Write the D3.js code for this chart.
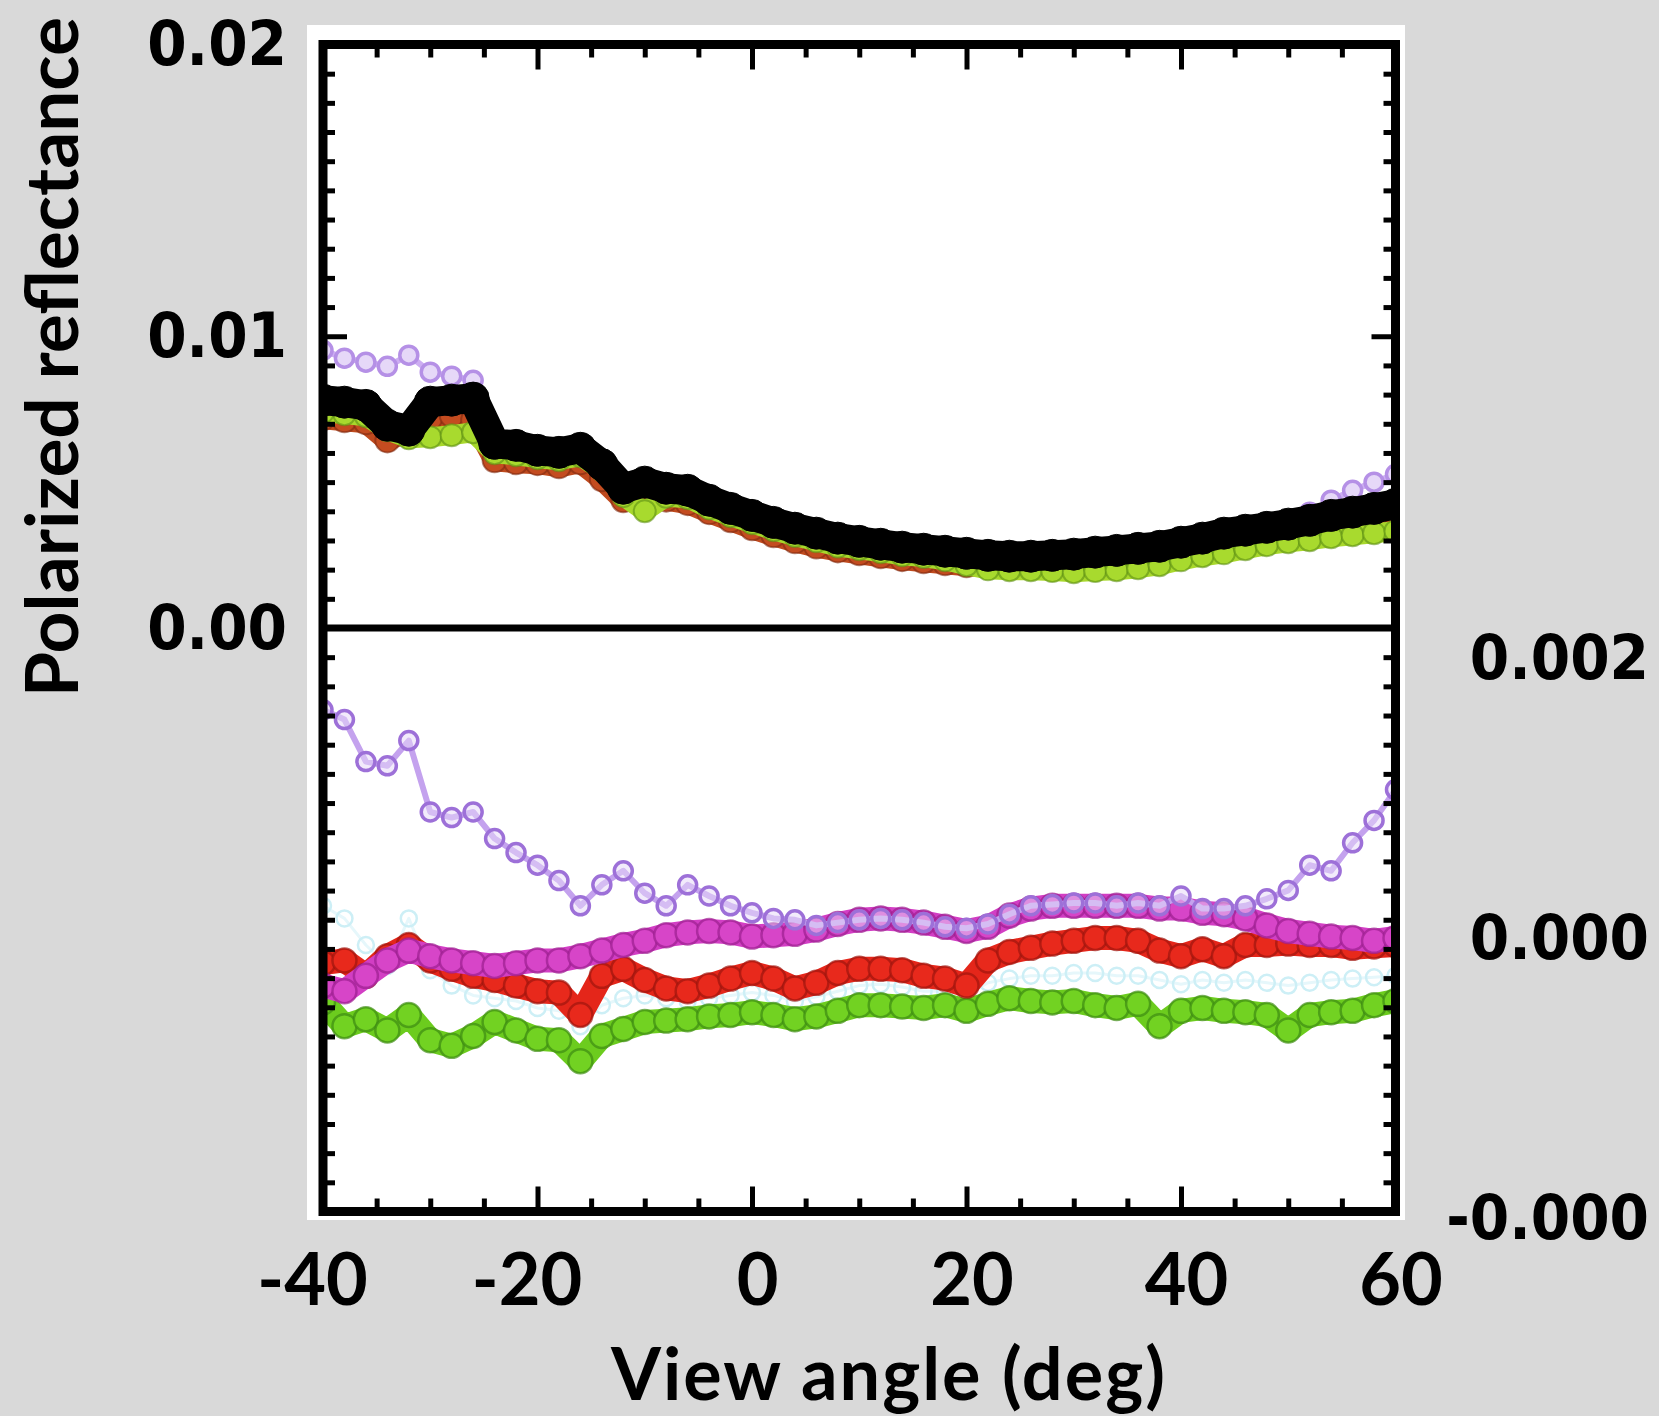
<!DOCTYPE html>
<html>
<head>
<meta charset="utf-8">
<script src="https://cdn.jsdelivr.net/npm/d3@7"></script>
<style>
  body { margin: 0; background: #d9d9d9; }
  svg { display: block; }
  .ylab { font-family: "DejaVu Sans Condensed", "DejaVu Sans", sans-serif; font-stretch: condensed; font-weight: bold; font-size: 63px; fill: #000; }
  .xlab { font-family: Lato, "Open Sans", sans-serif; font-weight: bold; font-size: 72px; fill: #000; }
</style>
</head>
<body>
<svg id="chart" width="1659" height="1416"></svg>
<script>
// view angles (deg), one point every 2 degrees
const angles = [-40, -38, -36, -34, -32, -30, -28, -26, -24, -22, -20, -18, -16, -14, -12, -10, -8, -6, -4, -2,
  0, 2, 4, 6, 8, 10, 12, 14, 16, 18, 20, 22, 24, 26, 28, 30, 32, 34, 36, 38, 40, 42, 44, 46, 48, 50, 52, 54, 56, 58, 60];

// upper panel (left axis)
const topPurple = [0.00952, 0.00925, 0.00911, 0.00897, 0.00935, 0.00877, 0.00863, 0.00849, 0.00633, 0.00626,
  0.00609, 0.00602, 0.00616, 0.00560, 0.00479, 0.00500, 0.00479, 0.00472, 0.00438, 0.00410,
  0.00386, 0.00362, 0.00342, 0.00325, 0.00308, 0.00297, 0.00287, 0.00277, 0.00270, 0.00263,
  0.00256, 0.00249, 0.00246, 0.00246, 0.00249, 0.00253, 0.00260, 0.00266, 0.00273, 0.00280,
  0.00294, 0.00308, 0.00325, 0.00335, 0.00345, 0.00369, 0.00397, 0.00438, 0.00472, 0.00500, 0.00527];
const topRed = [0.00719, 0.00712, 0.00705, 0.00643, 0.00678, 0.00719, 0.00729, 0.00712, 0.00575, 0.00568,
  0.00565, 0.00554, 0.00568, 0.00510, 0.00438, 0.00458, 0.00440, 0.00428, 0.00397, 0.00369,
  0.00342, 0.00318, 0.00297, 0.00279, 0.00266, 0.00256, 0.00246, 0.00236, 0.00229, 0.00222,
  0.00215, 0.00212, 0.00212, 0.00212, 0.00215, 0.00219, 0.00225, 0.00232, 0.00239, 0.00249,
  0.00263, 0.00277, 0.00290, 0.00301, 0.00311, 0.00325, 0.00335, 0.00352, 0.00362, 0.00376, 0.00390];
const topGreen = [0.00740, 0.00733, 0.00726, 0.00678, 0.00650, 0.00654, 0.00661, 0.00671, 0.00599, 0.00592,
  0.00582, 0.00575, 0.00589, 0.00540, 0.00452, 0.00400, 0.00450, 0.00445, 0.00410, 0.00383,
  0.00359, 0.00335, 0.00315, 0.00297, 0.00279, 0.00270, 0.00260, 0.00249, 0.00243, 0.00232,
  0.00215, 0.00201, 0.00198, 0.00198, 0.00195, 0.00191, 0.00195, 0.00198, 0.00205, 0.00215,
  0.00232, 0.00246, 0.00256, 0.00270, 0.00284, 0.00294, 0.00301, 0.00311, 0.00318, 0.00325, 0.00332];
const topBlack = [0.00781, 0.00774, 0.00763, 0.00695, 0.00678, 0.00774, 0.00781, 0.00788, 0.00633, 0.00626,
  0.00609, 0.00602, 0.00616, 0.00560, 0.00479, 0.00500, 0.00479, 0.00472, 0.00438, 0.00410,
  0.00386, 0.00362, 0.00342, 0.00325, 0.00308, 0.00297, 0.00287, 0.00277, 0.00270, 0.00263,
  0.00256, 0.00249, 0.00246, 0.00246, 0.00249, 0.00253, 0.00260, 0.00266, 0.00273, 0.00280,
  0.00294, 0.00308, 0.00325, 0.00335, 0.00345, 0.00356, 0.00369, 0.00386, 0.00397, 0.00410, 0.00424];

// lower panel (right axis)
const lowCyan = [0.00023, 0.00014, -0.00005, -0.00020, 0.00014, -0.00023, -0.00034, -0.00041, -0.00043, -0.00045,
  -0.00050, -0.00052, -0.00063, -0.00048, -0.00043, -0.00041, -0.00043, -0.00045, -0.00043, -0.00041,
  -0.00039, -0.00041, -0.00045, -0.00042, -0.00038, -0.00034, -0.00033, -0.00035, -0.00038, -0.00038,
  -0.00041, -0.00032, -0.00029, -0.00027, -0.00027, -0.00025, -0.00025, -0.00027, -0.00027, -0.00030,
  -0.00033, -0.00030, -0.00032, -0.00030, -0.00032, -0.00034, -0.00032, -0.00030, -0.00029, -0.00028, -0.00027];
const lowGreen = [-0.00046, -0.00063, -0.00058, -0.00066, -0.00055, -0.00073, -0.00077, -0.00070, -0.00060, -0.00066,
  -0.00072, -0.00073, -0.00088, -0.00070, -0.00065, -0.00060, -0.00059, -0.00058, -0.00056, -0.00055,
  -0.00053, -0.00055, -0.00058, -0.00056, -0.00052, -0.00048, -0.00048, -0.00049, -0.00050, -0.00048,
  -0.00052, -0.00047, -0.00043, -0.00045, -0.00046, -0.00045, -0.00048, -0.00050, -0.00047, -0.00063,
  -0.00052, -0.00050, -0.00052, -0.00053, -0.00055, -0.00066, -0.00055, -0.00053, -0.00052, -0.00048, -0.00045];
const lowRed = [-0.00018, -0.00016, -0.00027, -0.00013, -0.00005, -0.00016, -0.00022, -0.00027, -0.00030, -0.00034,
  -0.00038, -0.00039, -0.00055, -0.00027, -0.00022, -0.00030, -0.00036, -0.00038, -0.00034, -0.00029,
  -0.00025, -0.00029, -0.00036, -0.00032, -0.00025, -0.00022, -0.00022, -0.00023, -0.00027, -0.00029,
  -0.00034, -0.00016, -0.00010, -0.00007, -0.00004, -0.00002, 0.00000, 0.00000, -0.00002, -0.00009,
  -0.00013, -0.00008, -0.00013, -0.00005, -0.00005, -0.00004, -0.00005, -0.00005, -0.00007, -0.00006, -0.00005];
const lowMagenta = [-0.00034, -0.00038, -0.00027, -0.00016, -0.00009, -0.00013, -0.00016, -0.00018, -0.00020, -0.00018,
  -0.00016, -0.00016, -0.00013, -0.00009, -0.00005, -0.00002, 0.00002, 0.00004, 0.00005, 0.00004,
  0.00001, 0.00002, 0.00003, 0.00006, 0.00010, 0.00013, 0.00014, 0.00013, 0.00011, 0.00008,
  0.00005, 0.00008, 0.00016, 0.00021, 0.00023, 0.00023, 0.00023, 0.00023, 0.00023, 0.00021,
  0.00021, 0.00018, 0.00017, 0.00014, 0.00009, 0.00005, 0.00003, 0.00001, 0.00000, -0.00002, 0.00000];
const lowPurple = [0.00163, 0.00156, 0.00126, 0.00123, 0.00141, 0.00090, 0.00086, 0.00090, 0.00071, 0.00061,
  0.00052, 0.00041, 0.00023, 0.00038, 0.00048, 0.00032, 0.00023, 0.00038, 0.00030, 0.00023,
  0.00018, 0.00014, 0.00013, 0.00009, 0.00011, 0.00013, 0.00014, 0.00013, 0.00011, 0.00008,
  0.00007, 0.00010, 0.00017, 0.00023, 0.00024, 0.00025, 0.00025, 0.00023, 0.00025, 0.00023,
  0.00030, 0.00021, 0.00021, 0.00023, 0.00028, 0.00034, 0.00052, 0.00048, 0.00068, 0.00084, 0.00106];

// ticks and labels
const xTicks = [-40, -20, 0, 20, 40, 60];
const xTickLabels = ["-40", "-20", "0", "20", "40", "60"];
const leftTicks = [0.02, 0.01, 0.00];
const leftTickLabels = ["0.02", "0.01", "0.00"];
const rightTicks = [0.002, 0.000, -0.002];
const rightTickLabels = ["0.002", "0.000", "-0.000"];

const svg = d3.select("#chart");
const width = 1659, height = 1416;

svg.append("rect").attr("width", width).attr("height", height).attr("fill", "#d9d9d9");

// scales
const x = d3.scaleLinear().domain([-40, 60]).range([323, 1395.5]);
const yL = d3.scaleLinear().domain([-0.02, 0.02]).range([1211.5, 44.5]);
const yR = d3.scaleLinear().domain([-0.002, 0.002]).range([1218, 658]);

const fLeft = x(-40), fRight = x(60), fTop = yL(0.02), fBottom = yL(-0.02);

// white plot panel
svg.append("rect")
  .attr("x", 307).attr("y", 25)
  .attr("width", 1405 - 307).attr("height", 1220 - 25)
  .attr("fill", "#ffffff");

svg.append("clipPath").attr("id", "clip")
  .append("rect")
  .attr("x", fLeft).attr("y", fTop)
  .attr("width", fRight - fLeft).attr("height", fBottom - fTop);

const plot = svg.append("g").attr("clip-path", "url(#clip)");

// draw one series: connecting line plus circle markers
function drawSeries(values, y, s) {
  const pts = angles.map((a, i) => [x(a), y(values[i])]);
  const g = plot.append("g");
  g.append("path")
    .attr("d", d3.line()(pts))
    .attr("fill", "none")
    .attr("stroke", s.line)
    .attr("stroke-width", s.lineWidth)
    .attr("stroke-linejoin", "round")
    .attr("stroke-linecap", "round");
  g.selectAll("circle")
    .data(pts)
    .join("circle")
    .attr("cx", d => d[0])
    .attr("cy", d => d[1])
    .attr("r", s.r)
    .attr("fill", s.fill)
    .attr("fill-opacity", s.fillOpacity || 1)
    .attr("stroke", s.stroke)
    .attr("stroke-opacity", s.strokeOpacity || 1)
    .attr("stroke-width", s.strokeWidth);
}

// upper panel
drawSeries(topPurple, yL, { line: "#cdaef2", lineWidth: 6, r: 9, fill: "#e6d8f8", stroke: "#b590e6", strokeWidth: 3.5 });
drawSeries(topRed, yL, { line: "#bf4a1e", lineWidth: 22, r: 12, fill: "#c44c20", stroke: "#7e2a10", strokeWidth: 2, strokeOpacity: 0.6 });
drawSeries(topGreen, yL, { line: "#a8d82c", lineWidth: 20, r: 11, fill: "#a8da2e", stroke: "#5e8f14", strokeWidth: 2, strokeOpacity: 0.6 });
drawSeries(topBlack, yL, { line: "#000000", lineWidth: 30, r: 16, fill: "#000000", stroke: "#000000", strokeWidth: 1 });

// lower panel
drawSeries(lowCyan, yR, { line: "#e6f7fb", lineWidth: 3, r: 8, fill: "none", stroke: "#cdeff6", strokeWidth: 2.5 });
drawSeries(lowGreen, yR, { line: "#6ccc1e", lineWidth: 24, r: 12, fill: "#72d222", stroke: "#3d8c12", strokeWidth: 2.5, strokeOpacity: 0.7 });
drawSeries(lowRed, yR, { line: "#e4261a", lineWidth: 24, r: 12, fill: "#e8291c", stroke: "#a0160e", strokeWidth: 2.5, strokeOpacity: 0.7 });
drawSeries(lowMagenta, yR, { line: "#d23ec4", lineWidth: 24, r: 12, fill: "#d745c8", stroke: "#9c2090", strokeWidth: 2.5, strokeOpacity: 0.7 });
drawSeries(lowPurple, yR, { line: "#c4a2ee", lineWidth: 6, r: 9, fill: "#e6d8f8", fillOpacity: 0.5, stroke: "#9d70d8", strokeWidth: 3.5 });

// zero line between the panels
svg.append("line")
  .attr("x1", fLeft).attr("x2", fRight)
  .attr("y1", yL(0)).attr("y2", yL(0))
  .attr("stroke", "#000").attr("stroke-width", 7);

// frame
svg.append("rect")
  .attr("x", fLeft).attr("y", fTop)
  .attr("width", fRight - fLeft).attr("height", fBottom - fTop)
  .attr("fill", "none").attr("stroke", "#000").attr("stroke-width", 9);

// inward tick marks on all four sides
const minorX = d3.range(-40, 61, 5).filter(d => d % 20 !== 0);
const majorX = [-20, 0, 20, 40];
const minorY = d3.range(-19, 20).map(k => k / 1000).filter(d => Math.abs(d - 0.01) > 1e-9);
const majorY = [0.01];

function ticks(axis, transform, len) {
  const g = svg.append("g")
    .attr("transform", transform)
    .call(axis.tickSize(len).tickFormat(""));
  g.select(".domain").remove();
  g.selectAll("line").attr("stroke", "#000").attr("stroke-width", 5);
}

ticks(d3.axisBottom(x).tickValues(minorX), `translate(0,${fTop})`, 13);
ticks(d3.axisBottom(x).tickValues(majorX), `translate(0,${fTop})`, 25);
ticks(d3.axisTop(x).tickValues(minorX), `translate(0,${fBottom})`, 13);
ticks(d3.axisTop(x).tickValues(majorX), `translate(0,${fBottom})`, 25);
ticks(d3.axisRight(yL).tickValues(minorY), `translate(${fLeft},0)`, 12);
ticks(d3.axisRight(yL).tickValues(majorY), `translate(${fLeft},0)`, 24);
ticks(d3.axisLeft(yL).tickValues(minorY), `translate(${fRight},0)`, 12);
ticks(d3.axisLeft(yL).tickValues(majorY), `translate(${fRight},0)`, 24);

// x tick labels (the minus sign hangs to the left of the tick)
const xAxis = svg.append("g")
  .attr("transform", "translate(0,1305)")
  .call(d3.axisBottom(x).tickValues(xTicks).tickSize(0).tickFormat((d, i) => xTickLabels[i]));
xAxis.select(".domain").remove();
xAxis.attr("font-family", null).attr("font-size", null);
xAxis.selectAll("text")
  .attr("class", "xlab")
  .attr("y", 0).attr("dy", null)
  .attr("dx", d => d < 0 ? -11 : 5)
  .attr("fill", null);

// left tick labels
const leftAxis = svg.append("g")
  .attr("transform", "translate(287,0)")
  .call(d3.axisLeft(yL).tickValues(leftTicks).tickSize(0).tickFormat((d, i) => leftTickLabels[i]));
leftAxis.select(".domain").remove();
leftAxis.attr("font-family", null).attr("font-size", null);
leftAxis.selectAll("text").attr("class", "ylab").attr("x", 0).attr("fill", null);

// right tick labels (lower panel)
const rightAxis = svg.append("g")
  .attr("transform", "translate(1649,0)")
  .call(d3.axisRight(yR).tickValues(rightTicks).tickSize(0).tickFormat((d, i) => rightTickLabels[i]));
rightAxis.select(".domain").remove();
rightAxis.attr("font-family", null).attr("font-size", null).attr("text-anchor", "end");
rightAxis.selectAll("text").attr("class", "ylab").attr("x", 0).attr("fill", null);

// axis titles
svg.append("text")
  .attr("class", "xlab")
  .attr("x", 889).attr("y", 1400)
  .attr("text-anchor", "middle")
  .style("letter-spacing", "2px")
  .text("View angle (deg)");

svg.append("text")
  .attr("class", "xlab")
  .attr("transform", "translate(78,357) rotate(-90)")
  .attr("text-anchor", "middle")
  .style("font-size", "73px")
  .text("Polarized reflectance");
</script>
</body>
</html>
